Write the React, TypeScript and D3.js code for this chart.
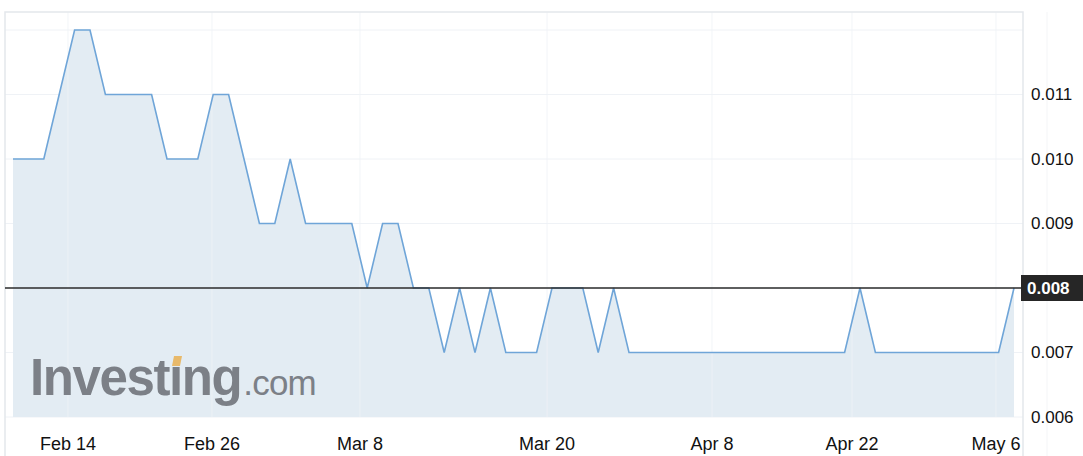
import { useEffect, useRef } from 'react'
import * as d3 from 'd3'

// daily closing prices, one per trading session
const prices = [
  0.010, 0.010, 0.010, 0.011, 0.012, 0.012, 0.011, 0.011, 0.011, 0.011,
  0.010, 0.010, 0.010, 0.011, 0.011, 0.010, 0.009, 0.009, 0.010, 0.009,
  0.009, 0.009, 0.009, 0.008, 0.009, 0.009, 0.008, 0.008, 0.007, 0.008,
  0.007, 0.008, 0.007, 0.007, 0.007, 0.008, 0.008, 0.008, 0.007, 0.008,
  0.007, 0.007, 0.007, 0.007, 0.007, 0.007, 0.007, 0.007, 0.007, 0.007,
  0.007, 0.007, 0.007, 0.007, 0.007, 0.008, 0.007, 0.007, 0.007, 0.007,
  0.007, 0.007, 0.007, 0.007, 0.007, 0.008,
]
const dateLabels = ['Feb 14', 'Feb 26', 'Mar 8', 'Mar 20', 'Apr 8', 'Apr 22', 'May 6']
// where each date label falls, in session index units
const datePos = [3.57, 12.92, 22.53, 34.68, 45.39, 54.48, 63.83]
const gridVals = [0.006, 0.007, 0.008, 0.009, 0.010, 0.011, 0.012]
const axisVals = [0.006, 0.007, 0.008, 0.009, 0.010, 0.011]

const W = 1083, H = 456
const LINE = '#6fa5d8'
const FILL = '#e3ecf3'
const GRID = '#eff2f6'
const FONT = '"Liberation Sans", Arial, Helvetica, sans-serif'

export default function App() {
  const ref = useRef<SVGSVGElement>(null)

  useEffect(() => {
    const svg = d3.select(ref.current!)
    svg.selectAll('*').remove()

    const x = d3.scaleLinear().domain([0, prices.length - 1]).range([13, 1014])
    const y = d3.scaleLinear().domain([0.006, 0.012]).range([417, 30])
    const frameL = 5, frameR = 1023, frameT = 12
    const last = prices[prices.length - 1]

    svg.append('rect').attr('width', W).attr('height', H).attr('fill', '#fff')

    // grid
    svg.append('g').selectAll('line').data(gridVals).join('line')
      .attr('x1', frameL).attr('x2', frameR)
      .attr('y1', d => y(d)).attr('y2', d => y(d))
      .attr('stroke', GRID).attr('stroke-width', 1)

    // area + line
    const idx = prices.map((_, i) => i)
    const area = d3.area<number>().x(i => x(i)).y0(y(0.006)).y1(i => y(prices[i]))
    svg.append('path').attr('d', area(idx)!).attr('fill', FILL)

    svg.append('g').selectAll('line').data(datePos).join('line')
      .attr('x1', d => x(d)).attr('x2', d => x(d))
      .attr('y1', frameT).attr('y2', y(0.006))
      .attr('stroke', GRID).attr('stroke-opacity', 0.8).attr('stroke-width', 1)

    const line = d3.line<number>().x(i => x(i)).y(i => y(prices[i]))
    svg.append('path').attr('d', line(idx)!).attr('fill', 'none')
      .attr('stroke', LINE).attr('stroke-width', 1.6).attr('stroke-linejoin', 'miter')

    // frame
    svg.append('path')
      .attr('d', `M${frameL},${H}V${frameT}H${frameR}V${H}`)
      .attr('fill', 'none').attr('stroke', '#e4e7ec').attr('stroke-width', 1.5)
    svg.append('line').attr('x1', 1047).attr('x2', 1047).attr('y1', frameT).attr('y2', H)
      .attr('stroke', '#f4f5f7').attr('stroke-width', 1)

    // watermark
    const logo = svg.append('text').attr('x', 30).attr('y', 395)
      .attr('fill', '#7c8087').attr('font-family', FONT)
    logo.append('tspan').attr('font-size', 51).attr('font-weight', 700)
      .attr('letter-spacing', -1.4).text('Investıng')
    logo.append('tspan').attr('font-size', 35).attr('letter-spacing', -0.8).attr('dx', 2).text('.com')
    svg.append('path').attr('d', 'M174,356L182,356L180,366L172,366Z').attr('fill', '#e8b96a')

    // x labels
    svg.append('g').selectAll('text').data(dateLabels).join('text')
      .attr('x', (_, i) => x(datePos[i])).attr('y', 450)
      .attr('text-anchor', 'middle').attr('font-family', FONT).attr('font-size', 18)
      .attr('fill', '#111').text(d => d)

    // y labels (the one under the value box is hidden by it)
    svg.append('g').selectAll('text').data(axisVals.filter(v => v !== last)).join('text')
      .attr('x', 1031).attr('y', d => y(d)).attr('dy', '0.35em')
      .attr('font-family', FONT).attr('font-size', 17).attr('fill', '#111')
      .text(d => d3.format('.3f')(d))

    // current value marker
    svg.append('line').attr('x1', frameL).attr('x2', 1021)
      .attr('y1', y(last)).attr('y2', y(last)).attr('stroke', '#2b2b2b').attr('stroke-width', 1.5)
    svg.append('rect').attr('x', 1021).attr('y', y(last) - 13).attr('width', 62).attr('height', 26)
      .attr('fill', '#262626')
    svg.append('text').attr('x', 1027).attr('y', y(last)).attr('dy', '0.36em')
      .attr('font-family', FONT).attr('font-size', 17).attr('font-weight', 700).attr('fill', '#fff')
      .text(d3.format('.3f')(last))
  }, [])

  return <svg ref={ref} width={W} height={H} style={{ position: 'fixed', top: 0, left: 0 }} />
}
